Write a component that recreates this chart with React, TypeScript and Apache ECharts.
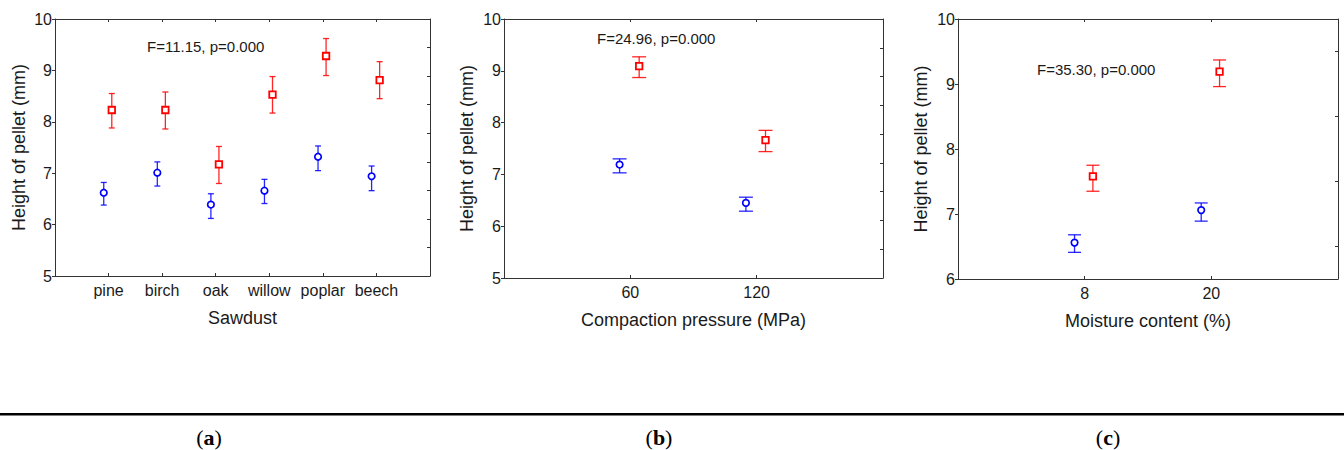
import React, { useEffect, useRef } from "react";
import * as echarts from "echarts";

// ---- Data ----
const sawdustCategories = ["pine", "birch", "oak", "willow", "poplar", "beech"];
const sawdustBlueMean = [6.62, 7.01, 6.39, 6.66, 7.32, 6.94];
const sawdustBlueLow = [6.38, 6.75, 6.12, 6.41, 7.05, 6.66];
const sawdustBlueHigh = [6.82, 7.22, 6.6, 6.88, 7.53, 7.14];
const sawdustRedMean = [8.23, 8.23, 7.17, 8.53, 9.28, 8.81];
const sawdustRedLow = [7.88, 7.86, 6.8, 8.17, 8.9, 8.45];
const sawdustRedHigh = [8.55, 8.58, 7.52, 8.88, 9.62, 9.17];

const pressureCategories = ["60", "120"];
const pressureBlueMean = [7.19, 6.45];
const pressureBlueLow = [7.03, 6.29];
const pressureBlueHigh = [7.3, 6.56];
const pressureRedMean = [9.09, 7.66];
const pressureRedLow = [8.87, 7.44];
const pressureRedHigh = [9.27, 7.85];

const moistureCategories = ["8", "20"];
const moistureBlueMean = [6.56, 7.06];
const moistureBlueLow = [6.41, 6.89];
const moistureBlueHigh = [6.68, 7.17];
const moistureRedMean = [7.58, 9.19];
const moistureRedLow = [7.35, 8.96];
const moistureRedHigh = [7.75, 9.37];

const annotations = ["F=11.15, p=0.000", "F=24.96, p=0.000", "F=35.30, p=0.000"];
const xNames = ["Sawdust", "Compaction pressure (MPa)", "Moisture content (%)"];
const yName = "Height of pellet (mm)";
const captions = ["a", "b", "c"];

// ---- Layout / style ----
const FONT = "Liberation Sans, Arial, sans-serif";
const TEXT = "#1a1a1a";
const AXIS = "#333";
const BLUE = "#0000ff";
const RED = "#ff0000";

const panels = [
  {
    grid: { left: 55, top: 19, width: 375, height: 257 },
    cats: sawdustCategories,
    yMin: 5,
    blue: [sawdustBlueMean, sawdustBlueLow, sawdustBlueHigh],
    red: [sawdustRedMean, sawdustRedLow, sawdustRedHigh],
    offB: -0.09,
    offR: 0.06,
    cap: 3,
    ann: { x: 147, y: 46 },
    yNameGap: 27,
    caption: 209,
  },
  {
    grid: { left: 504, top: 19, width: 379, height: 259 },
    cats: pressureCategories,
    yMin: 5,
    blue: [pressureBlueMean, pressureBlueLow, pressureBlueHigh],
    red: [pressureRedMean, pressureRedLow, pressureRedHigh],
    offB: -0.085,
    offR: 0.07,
    cap: 7,
    ann: { x: 597, y: 38 },
    yNameGap: 28,
    caption: 659,
  },
  {
    grid: { left: 958, top: 19, width: 380, height: 260 },
    cats: moistureCategories,
    yMin: 6,
    blue: [moistureBlueMean, moistureBlueLow, moistureBlueHigh],
    red: [moistureRedMean, moistureRedLow, moistureRedHigh],
    offB: -0.08,
    offR: 0.065,
    cap: 6.5,
    ann: { x: 1037, y: 69 },
    yNameGap: 28.5,
    caption: 1108,
  },
];

function errorBarSeries(gi: number, data: number[][], color: string, cap: number) {
  return {
    type: "custom",
    xAxisIndex: gi * 2,
    yAxisIndex: gi * 2,
    z: 2,
    data,
    renderItem: (params: any, api: any) => {
      const x = api.value(0);
      const lo = api.coord([x, api.value(1)]);
      const hi = api.coord([x, api.value(2)]);
      const style = { stroke: color, lineWidth: 1.3, opacity: 0.85 };
      return {
        type: "group",
        children: [
          { type: "line", shape: { x1: lo[0], y1: lo[1], x2: hi[0], y2: hi[1] }, style },
          { type: "line", shape: { x1: hi[0] - cap, y1: hi[1], x2: hi[0] + cap, y2: hi[1] }, style },
          { type: "line", shape: { x1: lo[0] - cap, y1: lo[1], x2: lo[0] + cap, y2: lo[1] }, style },
        ],
      };
    },
  };
}

function buildOption() {
  const grid: any[] = [];
  const xAxis: any[] = [];
  const yAxis: any[] = [];
  const series: any[] = [];
  const graphic: any[] = [];

  panels.forEach((p, gi) => {
    grid.push({ ...p.grid, containLabel: false });
    const n = p.cats.length;
    const lineStyle = { color: AXIS, width: 1 };
    xAxis.push({
      type: "value",
      gridIndex: gi,
      position: "bottom",
      min: 0,
      max: n + 1,
      interval: 1,
      axisLine: { show: true, onZero: false, lineStyle },
      axisTick: { show: true, inside: true, length: 3, lineStyle },
      splitLine: { show: false },
      axisLabel: {
        formatter: (v: number) => p.cats[v - 1] ?? "",
        fontSize: 16,
        fontFamily: FONT,
        color: TEXT,
        margin: 6,
      },
      name: xNames[gi],
      nameLocation: "middle",
      nameGap: 33,
      nameTextStyle: { fontSize: 18, fontFamily: FONT, color: TEXT },
    });
    xAxis.push({
      type: "value",
      gridIndex: gi,
      position: "top",
      min: 0,
      max: n + 1,
      interval: 1,
      axisLine: { show: true, onZero: false, lineStyle },
      axisTick: { show: true, inside: true, length: 3, lineStyle },
      splitLine: { show: false },
      axisLabel: { show: false },
    });
    yAxis.push({
      type: "value",
      gridIndex: gi,
      position: "left",
      min: p.yMin,
      max: 10,
      interval: 1,
      axisLine: { show: true, onZero: false, lineStyle },
      axisTick: { show: true, inside: false, length: 3, lineStyle },
      splitLine: { show: false },
      axisLabel: { fontSize: 16, fontFamily: FONT, color: TEXT, margin: 3 },
      name: yName,
      nameLocation: "middle",
      nameGap: p.yNameGap,
      nameTextStyle: { fontSize: 18, fontFamily: FONT, color: TEXT },
    });
    if (gi < 2) {
      yAxis.push({
        type: "value",
        gridIndex: gi,
        position: "right",
        min: 0,
        max: 9,
        interval: 1,
        axisLine: { show: true, onZero: false, lineStyle },
        axisTick: { show: true, inside: true, length: 3, lineStyle },
        splitLine: { show: false },
        axisLabel: { show: false },
      });
    } else {
      yAxis.push({
        type: "category",
        gridIndex: gi,
        position: "right",
        data: ["", "", "", ""],
        boundaryGap: true,
        axisLine: { show: true, onZero: false, lineStyle },
        axisTick: { show: true, inside: true, length: 3, alignWithLabel: true, lineStyle },
        splitLine: { show: false },
        axisLabel: { show: false },
      });
    }

    const [bm, bl, bh] = p.blue;
    const [rm, rl, rh] = p.red;
    const bErr = bm.map((_, i) => [i + 1 + p.offB, bl[i], bh[i]]);
    const rErr = rm.map((_, i) => [i + 1 + p.offR, rl[i], rh[i]]);
    series.push(errorBarSeries(gi, bErr, BLUE, p.cap));
    series.push(errorBarSeries(gi, rErr, RED, p.cap));
    series.push({
      type: "scatter",
      xAxisIndex: gi * 2,
      yAxisIndex: gi * 2,
      z: 3,
      symbol: "circle",
      symbolSize: 6.5,
      itemStyle: { color: "#fff", borderColor: BLUE, borderWidth: 1.7, opacity: 1 },
      data: bm.map((v, i) => [i + 1 + p.offB, v]),
    });
    series.push({
      type: "scatter",
      xAxisIndex: gi * 2,
      yAxisIndex: gi * 2,
      z: 3,
      symbol: "rect",
      symbolSize: 6.5,
      itemStyle: { color: "#fff", borderColor: RED, borderWidth: 1.8, opacity: 1 },
      data: rm.map((v, i) => [i + 1 + p.offR, v]),
    });

    graphic.push({
      type: "text",
      x: p.ann.x,
      y: p.ann.y,
      style: {
        text: annotations[gi],
        fontSize: 15,
        fontFamily: FONT,
        fill: TEXT,
        verticalAlign: "middle",
        align: "left",
      },
    });
    graphic.push({
      type: "text",
      x: p.caption,
      y: 437,
      style: {
        text: `{p|(}{b|${captions[gi]}}{p|)}`,
        align: "center",
        verticalAlign: "middle",
        rich: {
          p: { fontSize: 22, fontFamily: "Liberation Serif, serif", fill: "#000" },
          b: { fontSize: 22, fontWeight: "bold", fontFamily: "Liberation Serif, serif", fill: "#000" },
        },
      },
    });
  });

  graphic.push({
    type: "rect",
    shape: { x: 0, y: 413, width: 1344, height: 2.5 },
    style: { fill: "#000" },
  });

  return {
    animation: false,
    backgroundColor: "#fff",
    grid,
    xAxis,
    yAxis,
    series,
    graphic,
  };
}

export default function App() {
  const ref = useRef<HTMLDivElement>(null);
  useEffect(() => {
    if (!ref.current) return;
    const chart = echarts.init(ref.current, undefined, { renderer: "svg" });
    chart.setOption(buildOption() as any);
    return () => chart.dispose();
  }, []);
  return (
    <div
      ref={ref}
      style={{ position: "absolute", left: 0, top: 0, width: 1344, height: 450, background: "#fff" }}
    />
  );
}
